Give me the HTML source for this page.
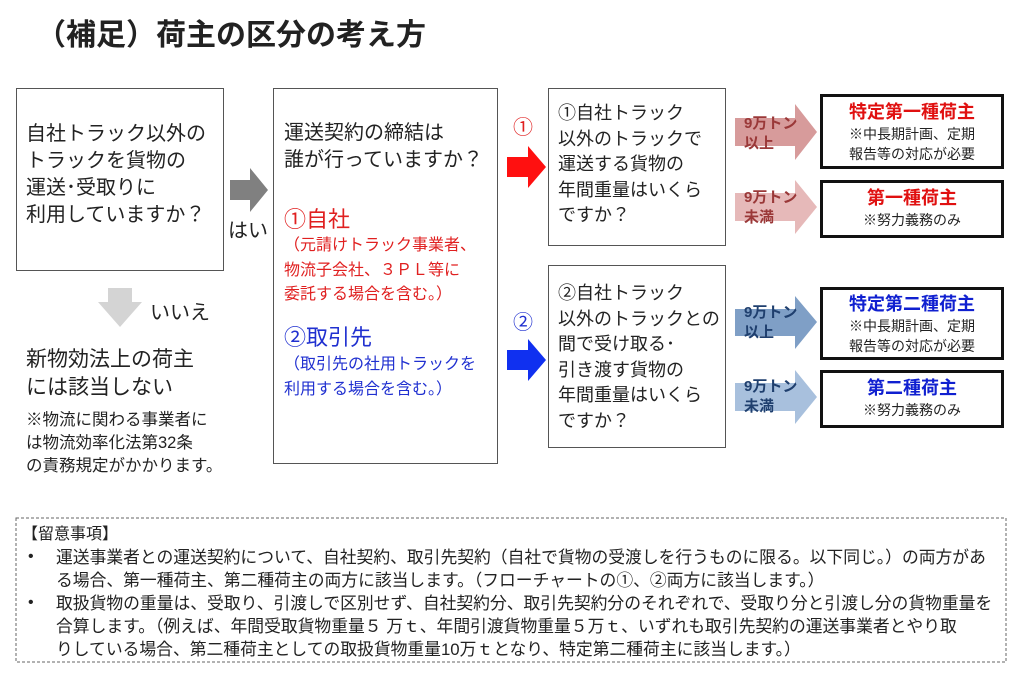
<!DOCTYPE html>
<html><head><meta charset="utf-8"><style>
body{margin:0;width:1024px;height:677px;background:#fff;position:relative;overflow:hidden;font-family:"Liberation Sans","Noto Sans CJK JP",sans-serif;color:#222}
div{position:absolute;white-space:nowrap}
.box{border:1.5px solid #555;background:#fff}
.res{border:3px solid #111;background:#fff;text-align:center}
.t20{font-size:20px;line-height:27px}
.t15{font-size:16px;line-height:24.5px}
svg{position:absolute;left:0;top:0}
</style></head><body>
<div style="left:36px;top:16px;font-size:30px;font-weight:bold;line-height:40px">（補足）荷主の区分の考え方</div>

<div class="box" style="left:16px;top:88px;width:206px;height:181px"></div>
<div class="t20" style="left:26px;top:121px">自社トラック以外の<br>トラックを貨物の<br>運送･受取りに<br>利用していますか？</div>
<div class="t20" style="left:228px;top:218px">はい</div>
<div class="t20" style="left:150px;top:300px">いいえ</div>
<div class="t20" style="left:26px;top:346px;font-size:21px;line-height:28px">新物効法上の荷主<br>には該当しない</div>
<div style="left:26px;top:409px;font-size:16.5px;line-height:23px">※物流に関わる事業者に<br>は物流効率化法第32条<br>の責務規定がかかります。</div>

<div class="box" style="left:273px;top:88px;width:223px;height:374px"></div>
<div class="t20" style="left:284px;top:120px">運送契約の締結は<br>誰が行っていますか？</div>
<div style="left:284px;top:206px;font-size:22px;line-height:28px;color:#e02020">①自社</div>
<div class="t15" style="left:284px;top:234px;color:#e02020">（元請けトラック事業者、<br>物流子会社、３ＰＬ等に<br>委託する場合を含む。）</div>
<div style="left:284px;top:324px;font-size:22px;line-height:28px;color:#2030d0">②取引先</div>
<div class="t15" style="left:284px;top:353px;color:#2030d0">（取引先の社用トラックを<br>利用する場合を含む。）</div>

<div style="left:513px;top:111px;font-size:20px;color:#e02020">①</div>
<div style="left:513px;top:306px;font-size:20px;color:#2030d0">②</div>

<div class="box" style="left:548px;top:88px;width:176px;height:156px"></div>
<div style="left:558px;top:101px;font-size:18px;line-height:25.5px">①自社トラック<br>以外のトラックで<br>運送する貨物の<br>年間重量はいくら<br>ですか？</div>
<div class="box" style="left:548px;top:265px;width:176px;height:181px"></div>
<div style="left:558px;top:281px;font-size:18px;line-height:25.5px">②自社トラック<br>以外のトラックとの<br>間で受け取る･<br>引き渡す貨物の<br>年間重量はいくら<br>ですか？</div>

<svg width="1024" height="677">
<polygon points="230,180 250,180 250,168 268,190 250,212 250,200 230,200" fill="#808080"/>
<polygon points="108,288 132,288 132,302 142,302 120,327 98,302 108,302" fill="#d4d4d4"/>
<polygon points="507,157 528,157 528,146 546,167 528,188 528,177 507,177" fill="#ff1010"/>
<polygon points="507,350 528,350 528,339 546,360 528,381 528,370 507,370" fill="#1030f0"/>
<polygon points="735,118 795,118 795,104 817,132 795,160 795,146 735,146" fill="#d79b9b"/>
<polygon points="735,193 795,193 795,180 817,207 795,234 795,221 735,221" fill="#e6b9b9"/>
<polygon points="735,309 795,309 795,296 817,322 795,349 795,336 735,336" fill="#7f9fc6"/>
<polygon points="735,383 795,383 795,370 817,397 795,424 795,411 735,411" fill="#a8c0dd"/>
<rect x="16" y="518" width="990" height="144" fill="none" stroke="#666" stroke-width="1" stroke-dasharray="3,2"/>
</svg>

<div style="left:744px;top:114px;font-size:15px;line-height:20px;font-weight:bold;color:#9a3838">9万トン<br>以上</div>
<div style="left:744px;top:188px;font-size:15px;line-height:20px;font-weight:bold;color:#9a3838">9万トン<br>未満</div>
<div style="left:744px;top:303px;font-size:15px;line-height:20px;font-weight:bold;color:#1f3f6e">9万トン<br>以上</div>
<div style="left:744px;top:377px;font-size:15px;line-height:20px;font-weight:bold;color:#1f3f6e">9万トン<br>未満</div>

<div class="res" style="left:820px;top:94px;width:178px;height:69px">
<div style="position:static;font-size:18px;font-weight:bold;color:#e01010;line-height:24px;margin-top:3px">特定第一種荷主</div>
<div style="position:static;font-size:14px;line-height:20px">※中長期計画、定期<br>報告等の対応が必要</div></div>
<div class="res" style="left:820px;top:180px;width:178px;height:52px">
<div style="position:static;font-size:18px;font-weight:bold;color:#e01010;line-height:24px;margin-top:3px">第一種荷主</div>
<div style="position:static;font-size:14px;line-height:20px">※努力義務のみ</div></div>
<div class="res" style="left:820px;top:287px;width:178px;height:67px">
<div style="position:static;font-size:18px;font-weight:bold;color:#1020d0;line-height:24px;margin-top:2px">特定第二種荷主</div>
<div style="position:static;font-size:14px;line-height:20px">※中長期計画、定期<br>報告等の対応が必要</div></div>
<div class="res" style="left:820px;top:370px;width:178px;height:52px">
<div style="position:static;font-size:18px;font-weight:bold;color:#1020d0;line-height:24px;margin-top:3px">第二種荷主</div>
<div style="position:static;font-size:14px;line-height:20px">※努力義務のみ</div></div>

<div style="left:22px;top:524px;font-size:16px;line-height:22px">【留意事項】</div>
<div style="left:28px;top:546px;font-size:16px;line-height:22px">•</div>
<div style="left:28px;top:592px;font-size:16px;line-height:22px">•</div>
<div style="left:56px;top:546px;font-size:16.8px;line-height:23px">運送事業者との運送契約について、自社契約、取引先契約（自社で貨物の受渡しを行うものに限る。以下同じ。）の両方があ<br>る場合、第一種荷主、第二種荷主の両方に該当します。（フローチャートの①、②両方に該当します。）</div>
<div style="left:56px;top:592px;font-size:16.8px;line-height:23px">取扱貨物の重量は、受取り、引渡しで区別せず、自社契約分、取引先契約分のそれぞれで、受取り分と引渡し分の貨物重量を<br>合算します。（例えば、年間受取貨物重量５ 万ｔ、年間引渡貨物重量５万ｔ、いずれも取引先契約の運送事業者とやり取<br>りしている場合、第二種荷主としての取扱貨物重量10万ｔとなり、特定第二種荷主に該当します。）</div>
</body></html>
